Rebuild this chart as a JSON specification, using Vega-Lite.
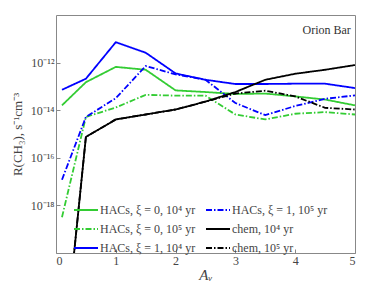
{
  "$schema": "https://vega.github.io/schema/vega-lite/v6.json",
  "width": 299,
  "height": 238,
  "autosize": "none",
  "padding": {"left": 56, "top": 15, "right": 19, "bottom": 46},
  "config": {
    "font": "Liberation Serif",
    "view": {"stroke": "#888888", "strokeWidth": 1},
    "axis": {"domain": false, "grid": false, "labelFont": "Liberation Serif", "titleFont": "Liberation Serif", "labelColor": "#444444", "titleColor": "#444444", "tickColor": "#888888", "labelFontSize": 12, "titleFontSize": 13, "titleFontWeight": "normal"}
  },
  "datasets": {
    "curves": [
      {"series": "HACs, ξ = 0, 10⁴ yr", "av": 0.1, "r": 1.6e-14},
      {"series": "HACs, ξ = 0, 10⁴ yr", "av": 0.5, "r": 1.5e-13},
      {"series": "HACs, ξ = 0, 10⁴ yr", "av": 1.0, "r": 6.6e-13},
      {"series": "HACs, ξ = 0, 10⁴ yr", "av": 1.5, "r": 5.0e-13},
      {"series": "HACs, ξ = 0, 10⁴ yr", "av": 2.0, "r": 6.8e-14},
      {"series": "HACs, ξ = 0, 10⁴ yr", "av": 2.5, "r": 5.8e-14},
      {"series": "HACs, ξ = 0, 10⁴ yr", "av": 3.0, "r": 4.8e-14},
      {"series": "HACs, ξ = 0, 10⁴ yr", "av": 3.5, "r": 5.0e-14},
      {"series": "HACs, ξ = 0, 10⁴ yr", "av": 4.0, "r": 3.8e-14},
      {"series": "HACs, ξ = 0, 10⁴ yr", "av": 4.5, "r": 2.8e-14},
      {"series": "HACs, ξ = 0, 10⁴ yr", "av": 5.0, "r": 1.6e-14},

      {"series": "HACs, ξ = 0, 10⁵ yr", "av": 0.1, "r": 3.2e-19},
      {"series": "HACs, ξ = 0, 10⁵ yr", "av": 0.5, "r": 5.2e-15},
      {"series": "HACs, ξ = 0, 10⁵ yr", "av": 1.0, "r": 1.3e-14},
      {"series": "HACs, ξ = 0, 10⁵ yr", "av": 1.5, "r": 4.4e-14},
      {"series": "HACs, ξ = 0, 10⁵ yr", "av": 2.0, "r": 4.1e-14},
      {"series": "HACs, ξ = 0, 10⁵ yr", "av": 2.5, "r": 4.1e-14},
      {"series": "HACs, ξ = 0, 10⁵ yr", "av": 3.0, "r": 6.6e-15},
      {"series": "HACs, ξ = 0, 10⁵ yr", "av": 3.5, "r": 4.1e-15},
      {"series": "HACs, ξ = 0, 10⁵ yr", "av": 4.0, "r": 7.1e-15},
      {"series": "HACs, ξ = 0, 10⁵ yr", "av": 4.5, "r": 8.3e-15},
      {"series": "HACs, ξ = 0, 10⁵ yr", "av": 5.0, "r": 6.6e-15},

      {"series": "HACs, ξ = 1, 10⁴ yr", "av": 0.1, "r": 7.2e-14},
      {"series": "HACs, ξ = 1, 10⁴ yr", "av": 0.5, "r": 2.1e-13},
      {"series": "HACs, ξ = 1, 10⁴ yr", "av": 1.0, "r": 7.2e-12},
      {"series": "HACs, ξ = 1, 10⁴ yr", "av": 1.5, "r": 2.6e-12},
      {"series": "HACs, ξ = 1, 10⁴ yr", "av": 2.0, "r": 3.5e-13},
      {"series": "HACs, ξ = 1, 10⁴ yr", "av": 2.5, "r": 1.9e-13},
      {"series": "HACs, ξ = 1, 10⁴ yr", "av": 3.0, "r": 1.26e-13},
      {"series": "HACs, ξ = 1, 10⁴ yr", "av": 3.5, "r": 1.26e-13},
      {"series": "HACs, ξ = 1, 10⁴ yr", "av": 4.0, "r": 1.3e-13},
      {"series": "HACs, ξ = 1, 10⁴ yr", "av": 4.5, "r": 1.3e-13},
      {"series": "HACs, ξ = 1, 10⁴ yr", "av": 5.0, "r": 8.5e-14},

      {"series": "HACs, ξ = 1, 10⁵ yr", "av": 0.1, "r": 1.2e-17},
      {"series": "HACs, ξ = 1, 10⁵ yr", "av": 0.5, "r": 5.2e-15},
      {"series": "HACs, ξ = 1, 10⁵ yr", "av": 1.0, "r": 3.2e-14},
      {"series": "HACs, ξ = 1, 10⁵ yr", "av": 1.5, "r": 7.2e-13},
      {"series": "HACs, ξ = 1, 10⁵ yr", "av": 2.0, "r": 3.2e-13},
      {"series": "HACs, ξ = 1, 10⁵ yr", "av": 2.5, "r": 1.9e-13},
      {"series": "HACs, ξ = 1, 10⁵ yr", "av": 3.0, "r": 2.0e-14},
      {"series": "HACs, ξ = 1, 10⁵ yr", "av": 3.5, "r": 6.2e-15},
      {"series": "HACs, ξ = 1, 10⁵ yr", "av": 4.0, "r": 1.5e-14},
      {"series": "HACs, ξ = 1, 10⁵ yr", "av": 4.5, "r": 3.0e-14},
      {"series": "HACs, ξ = 1, 10⁵ yr", "av": 5.0, "r": 4.2e-14},

      {"series": "chem, 10⁴ yr", "av": 0.1, "r": 1e-25},
      {"series": "chem, 10⁴ yr", "av": 0.5, "r": 7.5e-16},
      {"series": "chem, 10⁴ yr", "av": 1.0, "r": 4.1e-15},
      {"series": "chem, 10⁴ yr", "av": 1.5, "r": 6.6e-15},
      {"series": "chem, 10⁴ yr", "av": 2.0, "r": 1.07e-14},
      {"series": "chem, 10⁴ yr", "av": 2.5, "r": 2.3e-14},
      {"series": "chem, 10⁴ yr", "av": 3.0, "r": 5.8e-14},
      {"series": "chem, 10⁴ yr", "av": 3.5, "r": 1.9e-13},
      {"series": "chem, 10⁴ yr", "av": 4.0, "r": 3.4e-13},
      {"series": "chem, 10⁴ yr", "av": 4.5, "r": 5.0e-13},
      {"series": "chem, 10⁴ yr", "av": 5.0, "r": 7.9e-13},

      {"series": "chem, 10⁵ yr", "av": 0.1, "r": 1e-25},
      {"series": "chem, 10⁵ yr", "av": 0.5, "r": 7.5e-16},
      {"series": "chem, 10⁵ yr", "av": 1.0, "r": 4.1e-15},
      {"series": "chem, 10⁵ yr", "av": 1.5, "r": 6.6e-15},
      {"series": "chem, 10⁵ yr", "av": 2.0, "r": 1.07e-14},
      {"series": "chem, 10⁵ yr", "av": 2.5, "r": 2.3e-14},
      {"series": "chem, 10⁵ yr", "av": 3.0, "r": 5.0e-14},
      {"series": "chem, 10⁵ yr", "av": 3.5, "r": 6.6e-14},
      {"series": "chem, 10⁵ yr", "av": 4.0, "r": 3.8e-14},
      {"series": "chem, 10⁵ yr", "av": 4.5, "r": 1.26e-14},
      {"series": "chem, 10⁵ yr", "av": 5.0, "r": 1.07e-14}
    ],
    "label": [{"av": 4.93, "r": 2.4e-11, "text": "Orion Bar"}]
  },
  "layer": [
    {
      "data": {"name": "curves"},
      "mark": {"type": "line", "strokeWidth": 1.8, "clip": true},
      "encoding": {
        "x": {"field": "av", "type": "quantitative", "scale": {"domain": [0, 5], "nice": false}, "axis": {"title": "Aᵥ", "titleFontSize": 15, "titleFontStyle": "italic", "values": [0, 1, 2, 3, 4, 5], "format": "d", "tickSize": -4, "labelPadding": 6, "titlePadding": 1}},
        "y": {"field": "r", "type": "quantitative", "scale": {"type": "log", "domain": [1e-20, 1e-10], "nice": false}, "axis": {"title": "R(CH₃), s⁻¹cm⁻³", "values": [1e-18, 1e-16, 1e-14, 1e-12], "tickSize": -4, "labelPadding": 6, "titlePadding": 6, "labelExpr": "datum.value < 1e-17 ? '10⁻¹⁸' : datum.value < 1e-15 ? '10⁻¹⁶' : datum.value < 1e-13 ? '10⁻¹⁴' : '10⁻¹²'"}},
        "color": {
          "field": "series", "type": "nominal",
          "scale": {
            "domain": ["HACs, ξ = 0, 10⁴ yr", "HACs, ξ = 0, 10⁵ yr", "HACs, ξ = 1, 10⁴ yr", "HACs, ξ = 1, 10⁵ yr", "chem, 10⁴ yr", "chem, 10⁵ yr"],
            "range": ["#33cc33", "#33cc33", "#0000ff", "#0000ff", "#000000", "#000000"]
          },
          "legend": {"title": null, "orient": "none", "legendX": 17, "legendY": 182, "columns": 2, "columnPadding": 6, "rowPadding": -11, "symbolType": "stroke", "symbolSize": 576, "symbolStrokeWidth": 2, "labelFont": "Liberation Serif", "labelFontSize": 12, "labelColor": "#444444", "labelOffset": 1}
        },
        "strokeDash": {
          "field": "series", "type": "nominal",
          "scale": {
            "domain": ["HACs, ξ = 0, 10⁴ yr", "HACs, ξ = 0, 10⁵ yr", "HACs, ξ = 1, 10⁴ yr", "HACs, ξ = 1, 10⁵ yr", "chem, 10⁴ yr", "chem, 10⁵ yr"],
            "range": [[1, 0], [6, 2, 1.5, 2], [1, 0], [6, 2, 1.5, 2], [1, 0], [6, 2, 1.5, 2]]
          },
          "legend": {"title": null, "orient": "none", "legendX": 17, "legendY": 182, "columns": 2, "columnPadding": 6, "rowPadding": -11, "symbolType": "stroke", "symbolSize": 576, "symbolStrokeWidth": 2, "labelFont": "Liberation Serif", "labelFontSize": 12, "labelColor": "#444444", "labelOffset": 1}
        }
      }
    },
    {
      "data": {"name": "label"},
      "mark": {"type": "text", "align": "right", "baseline": "middle", "fontSize": 12, "font": "Liberation Serif", "color": "#333333"},
      "encoding": {
        "x": {"field": "av", "type": "quantitative"},
        "y": {"field": "r", "type": "quantitative"},
        "text": {"field": "text"}
      }
    }
  ]
}
